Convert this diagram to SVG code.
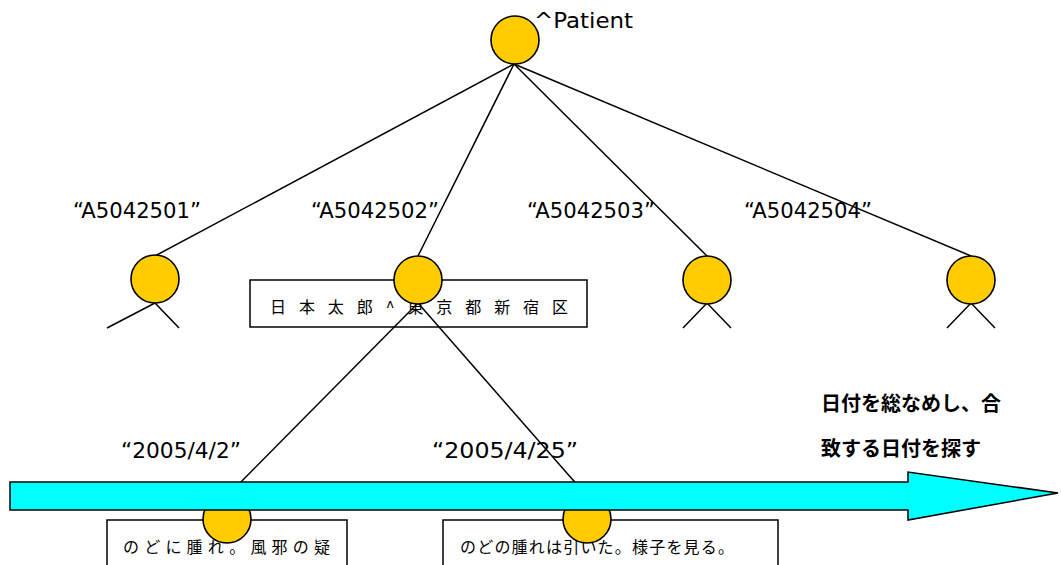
<svg xmlns="http://www.w3.org/2000/svg" width="1061" height="565" viewBox="0 0 1061 565">
<style>
.n{fill:#FFCC00;stroke:#000;stroke-width:1.6}
.l{stroke:#000;stroke-width:1.5;fill:none}
.b{fill:#fff;stroke:#000;stroke-width:1.5}
.t{font-family:"DejaVu Sans",Verdana,sans-serif;font-size:21px;fill:#000}
.j{font-family:"Noto Sans CJK JP",sans-serif;font-size:16px;fill:#000}
.jb{font-family:"Noto Sans CJK JP",sans-serif;font-size:20px;font-weight:bold;fill:#000}
</style>
<rect width="1061" height="565" fill="#fff"/>
<g id="box-name"><rect class="b" x="250" y="280" width="337" height="47"/>
<text class="j" x="270" y="313" textLength="298" lengthAdjust="spacing">日 本 太 郎 ^ 東 京 都 新 宿 区</text></g>
<g id="box-note1"><rect class="b" x="107" y="520" width="240" height="60"/>
<text class="j" x="123" y="553" textLength="207" lengthAdjust="spacing">のどに腫れ。風邪の疑</text></g>
<g id="box-note2"><rect class="b" x="443" y="520" width="335" height="60"/>
<text class="j" x="460" y="553" textLength="274" lengthAdjust="spacing">のどの腫れは引いた。様子を見る。</text></g>
<g id="connectors">
<line class="l" x1="514" y1="64" x2="155" y2="256"/>
<line class="l" x1="514" y1="64" x2="418" y2="256"/>
<line class="l" x1="514" y1="64" x2="707" y2="256"/>
<line class="l" x1="514" y1="64" x2="971" y2="256"/>
<polyline class="l" points="107,328 155,303 179,328"/>
<polyline class="l" points="683,328 707,303 731,328"/>
<polyline class="l" points="947,328 971,303 995,328"/>
<line class="l" x1="418" y1="303" x2="227" y2="496"/>
<line class="l" x1="418" y1="303" x2="587" y2="496"/>
</g>
<g id="node-patient"><circle class="n" cx="515" cy="40" r="24"/>
<text class="t" x="534" y="28" style="font-size:22px" textLength="99" lengthAdjust="spacingAndGlyphs">^Patient</text></g>
<g id="node-a1"><circle class="n" cx="155" cy="279" r="24"/><text class="t" x="73" y="218" textLength="128" lengthAdjust="spacingAndGlyphs">“A5042501”</text></g>
<g id="node-a2"><circle class="n" cx="418" cy="280" r="24"/><text class="t" x="311" y="218" textLength="128" lengthAdjust="spacingAndGlyphs">“A5042502”</text></g>
<g id="node-a3"><circle class="n" cx="707" cy="280" r="24"/><text class="t" x="527" y="218" textLength="128" lengthAdjust="spacingAndGlyphs">“A5042503”</text></g>
<g id="node-a4"><circle class="n" cx="971" cy="280" r="24"/><text class="t" x="744" y="218" textLength="128" lengthAdjust="spacingAndGlyphs">“A5042504”</text></g>
<g id="node-d1"><circle class="n" cx="227" cy="519" r="24"/><text class="t" x="121" y="458" textLength="120" lengthAdjust="spacingAndGlyphs">“2005/4/2”</text></g>
<g id="node-d2"><circle class="n" cx="587" cy="519" r="24"/><text class="t" x="432" y="458" textLength="146" lengthAdjust="spacingAndGlyphs">“2005/4/25”</text></g>
<g id="timeline"><polygon points="10,482 908,482 908,472 1058,493 908,520 908,510 10,510" fill="#00FFFF" stroke="#000" stroke-width="1.5"/></g>
<g id="note-scan"><text class="jb" x="821" y="411">日付を総なめし、合</text>
<text class="jb" x="821" y="456">致する日付を探す</text></g>
</svg>
